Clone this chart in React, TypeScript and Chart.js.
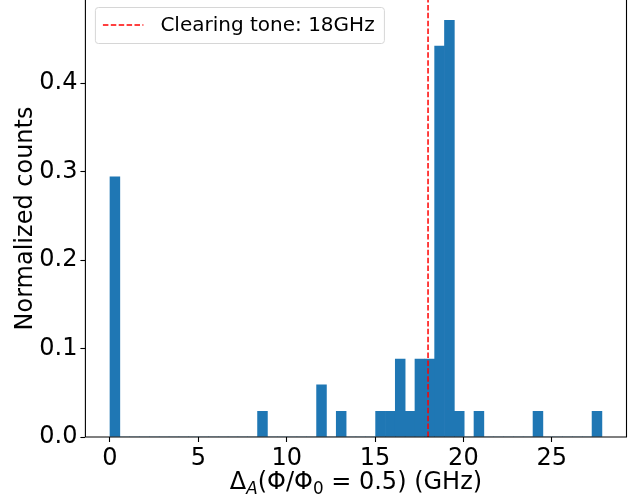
import React, { useEffect, useRef } from 'react';
import { Chart, registerables } from 'chart.js';

Chart.register(...registerables);

// Histogram binning (equal-width bins over the sampled range)
const binRangeMin = 0;
const binRangeMax = 27.84;
const binCount = 50;

// Normalized counts per bin (density), bins 0..49
const normalizedCounts = [
  0.294, 0, 0, 0, 0, 0, 0, 0, 0, 0,
  0, 0, 0, 0, 0, 0.029, 0, 0, 0, 0,
  0, 0.059, 0, 0.029, 0, 0, 0, 0.029, 0.029, 0.088,
  0.029, 0.088, 0.088, 0.442, 0.471, 0.029, 0, 0.029, 0, 0,
  0, 0, 0, 0.029, 0, 0, 0, 0, 0, 0.029,
];

// Clearing tone frequency (GHz)
const clearingTone = 18;
const legendLabel = 'Clearing tone: 18GHz';

// Axes
const xTickValues = [0, 5, 10, 15, 20, 25];
const yTickValues = [0, 0.1, 0.2, 0.3, 0.4];
const xLimits = [-1.392, 29.232];
const yLimits = [0, 0.494];
const yAxisTitle = 'Normalized counts';

const FONT = '"DejaVu Sans", "Liberation Sans", sans-serif';
const BAR_COLOR = '#1f77b4';

// x-axis label with math subscripts: Δ_A(Φ/Φ_0 = 0.5) (GHz)
const xLabelParts = [
  { text: 'Δ', sub: false, italic: false },
  { text: 'A', sub: true, italic: true },
  { text: '(Φ/Φ', sub: false, italic: false },
  { text: '0', sub: true, italic: false },
  { text: ' = 0.5) (GHz)', sub: false, italic: false },
];

const spinesPlugin = {
  id: 'spines',
  afterDatasetsDraw(chart: any) {
    const { ctx, chartArea: a } = chart;
    ctx.save();
    ctx.strokeStyle = '#000';
    ctx.lineWidth = 1.1;
    ctx.beginPath();
    ctx.moveTo(a.left, a.top - 2);
    ctx.lineTo(a.left, a.bottom);
    ctx.lineTo(a.right, a.bottom);
    ctx.lineTo(a.right, a.top - 2);
    ctx.stroke();
    ctx.restore();
  },
};

const legendPlugin = {
  id: 'insideLegend',
  afterDraw(chart: any) {
    const { ctx, chartArea: a } = chart;
    const x = a.left + 10;
    const y = a.top + 7.5;
    const w = 289;
    const h = 36;
    const r = 3;
    ctx.save();
    ctx.beginPath();
    ctx.moveTo(x + r, y);
    ctx.lineTo(x + w - r, y);
    ctx.arcTo(x + w, y, x + w, y + r, r);
    ctx.lineTo(x + w, y + h - r);
    ctx.arcTo(x + w, y + h, x + w - r, y + h, r);
    ctx.lineTo(x + r, y + h);
    ctx.arcTo(x, y + h, x, y + h - r, r);
    ctx.lineTo(x, y + r);
    ctx.arcTo(x, y, x + r, y, r);
    ctx.closePath();
    ctx.fillStyle = 'rgba(255,255,255,0.8)';
    ctx.fill();
    ctx.strokeStyle = '#d6d6d6';
    ctx.lineWidth = 1;
    ctx.stroke();

    ctx.beginPath();
    ctx.setLineDash([5.5, 2.4]);
    ctx.strokeStyle = 'red';
    ctx.lineWidth = 1.5;
    ctx.moveTo(x + 7.5, y + 17.5);
    ctx.lineTo(x + 48, y + 17.5);
    ctx.stroke();
    ctx.setLineDash([]);

    ctx.fillStyle = '#000';
    ctx.font = `20px ${FONT}`;
    ctx.textBaseline = 'middle';
    ctx.textAlign = 'left';
    ctx.fillText(legendLabel, x + 65, y + 18);
    ctx.restore();
  },
};

const xLabelPlugin = {
  id: 'xMathLabel',
  afterDraw(chart: any) {
    const { ctx, chartArea: a } = chart;
    const size = 24;
    const subSize = size * 0.7;
    const fontFor = (p: any) =>
      `${p.italic ? 'italic ' : ''}${p.sub ? subSize : size}px ${FONT}`;
    ctx.save();
    ctx.fillStyle = '#000';
    ctx.textBaseline = 'alphabetic';
    ctx.textAlign = 'left';
    let total = 0;
    const widths = xLabelParts.map((p) => {
      ctx.font = fontFor(p);
      const wd = ctx.measureText(p.text).width;
      total += wd;
      return wd;
    });
    let cx = (a.left + a.right) / 2 - total / 2;
    const baseline = 489;
    xLabelParts.forEach((p, i) => {
      ctx.font = fontFor(p);
      ctx.fillText(p.text, cx, baseline + (p.sub ? 5 : 0));
      cx += widths[i];
    });
    ctx.restore();
  },
};

export default function App() {
  const canvasRef = useRef<HTMLCanvasElement | null>(null);

  useEffect(() => {
    if (!canvasRef.current) return;
    const binWidth = (binRangeMax - binRangeMin) / binCount;
    const bars = normalizedCounts.map((v, i) => ({
      x: binRangeMin + (i + 0.5) * binWidth,
      y: v,
    }));

    const chart = new Chart(canvasRef.current, {
      type: 'bar',
      data: {
        datasets: [
          {
            type: 'line',
            label: legendLabel,
            data: [
              { x: clearingTone, y: yLimits[0] },
              { x: clearingTone, y: yLimits[1] },
            ],
            borderColor: 'red',
            borderWidth: 1.5,
            borderDash: [5.5, 2.4],
            pointRadius: 0,
            fill: false,
            order: 0,
          } as any,
          {
            type: 'bar',
            label: 'counts',
            data: bars,
            backgroundColor: BAR_COLOR,
            borderWidth: 0,
            barPercentage: 1,
            categoryPercentage: 1,
            order: 1,
          } as any,
        ],
      },
      options: {
        responsive: false,
        animation: false,
        maintainAspectRatio: false,
        layout: { padding: { top: 0, right: 12.5, bottom: 0, left: 0 } },
        plugins: {
          legend: { display: false },
          tooltip: { enabled: false },
          title: { display: false },
        },
        scales: {
          x: {
            type: 'linear',
            min: xLimits[0],
            max: xLimits[1],
            offset: false,
            grid: {
              display: true,
              offset: false,
              drawOnChartArea: false,
              drawTicks: true,
              tickLength: 5,
              tickWidth: 1.1,
              tickColor: '#000',
            },
            border: { display: false },
            ticks: {
              color: '#000',
              font: { family: FONT, size: 24 },
              padding: 2,
              maxRotation: 0,
              autoSkip: false,
              callback: (v: any) => String(v),
            },
            afterBuildTicks: (scale: any) => {
              scale.ticks = xTickValues.map((v) => ({ value: v }));
            },
            afterFit: (scale: any) => {
              scale.height = 60;
              scale.paddingLeft = 0;
              scale.paddingRight = 0;
            },
          } as any,
          y: {
            type: 'linear',
            min: yLimits[0],
            max: yLimits[1],
            grid: {
              display: true,
              drawOnChartArea: false,
              drawTicks: true,
              tickLength: 5,
              tickWidth: 1.1,
              tickColor: '#000',
            },
            border: { display: false },
            ticks: {
              color: '#000',
              font: { family: FONT, size: 24 },
              padding: 3,
              autoSkip: false,
              callback: (v: any) => Number(v).toFixed(1),
            },
            title: {
              display: true,
              text: yAxisTitle,
              color: '#000',
              font: { family: FONT, size: 24 },
              padding: { top: 11, bottom: 0 },
            },
            afterBuildTicks: (scale: any) => {
              scale.ticks = yTickValues.map((v) => ({ value: v }));
            },
            afterFit: (scale: any) => {
              scale.width = 85.4;
              scale.paddingTop = 0;
              scale.paddingBottom = 0;
            },
          } as any,
        },
      },
      plugins: [spinesPlugin, legendPlugin, xLabelPlugin],
    });

    return () => chart.destroy();
  }, []);

  return (
    <canvas
      ref={canvasRef}
      width={639}
      height={497}
      style={{ position: 'absolute', left: 0, top: 0, width: 639, height: 497 }}
    />
  );
}
